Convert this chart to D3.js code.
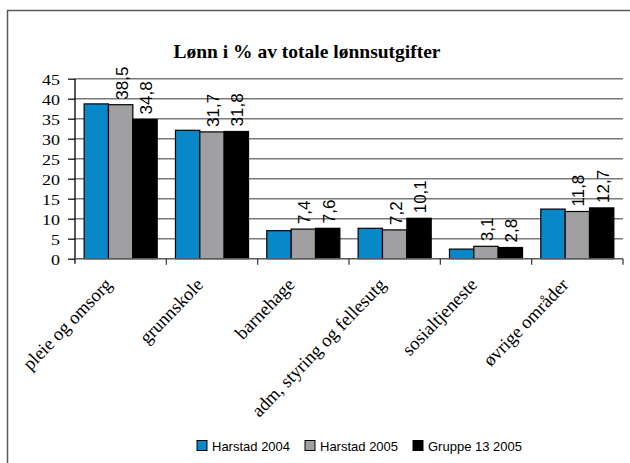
<!DOCTYPE html>
<html lang="en">
<head>
<meta charset="utf-8">
<style>
body { margin: 0; background: #fff; }
svg { display: block; }
.serif { font-family: "Liberation Serif", "Times New Roman", serif; }
.sans { font-family: "Liberation Sans", Arial, sans-serif; }
</style>
</head>
<body>
<script src="https://cdn.jsdelivr.net/npm/d3@7"></script>
<script>

var width = 630,
    height = 463;

var categories = ["pleie og omsorg", "grunnskole", "barnehage",
                  "adm, styring og fellesutg", "sosialtjeneste", "øvrige områder"];
var seriesNames = ["Harstad 2004", "Harstad 2005", "Gruppe 13 2005"];
var harstad2004 = [38.7, 32.1, 7.0, 7.6, 2.4, 12.4];
var harstad2005 = [38.5, 31.7, 7.4, 7.2, 3.1, 11.8];
var gruppe2005 = [34.8, 31.8, 7.6, 10.1, 2.8, 12.7];
var yTicks = [0, 5, 10, 15, 20, 25, 30, 35, 40, 45];
var colors = ["#0788c8", "#a0a0a2", "#000000"];

// only the two 2005 series carry value labels in the original
var labelled = [false, true, true];

var series = [harstad2004, harstad2005, gruppe2005];

var margin = {left: 75, right: 7, top: 78.7, bottom: 204.3};

var svg = d3.select("body").append("svg")
    .attr("width", width)
    .attr("height", height);

// outer frame (right and bottom edges fall outside the picture)
svg.append("path")
    .attr("d", "M7.5," + height + "V10.5H" + width)
    .attr("fill", "none")
    .attr("stroke", "#5a5a5a")
    .attr("stroke-width", 1.5);

var x0 = d3.scaleBand()
    .domain(categories)
    .range([margin.left, width - margin.right])
    .paddingInner(0.2)
    .paddingOuter(0.1);

var x1 = d3.scaleBand()
    .domain(d3.range(series.length))
    .range([0, x0.bandwidth()]);

var y = d3.scaleLinear()
    .domain([0, 45])
    .range([height - margin.bottom, margin.top]);

svg.append("text")
    .attr("class", "serif")
    .attr("x", 307)
    .attr("y", 58)
    .attr("text-anchor", "middle")
    .style("font-size", "19.5px")
    .style("font-weight", "bold")
    .text("Lønn i % av totale lønnsutgifter");

// gridlines
svg.append("g").selectAll("line")
    .data(yTicks.slice(1))
    .enter().append("line")
    .attr("x1", margin.left)
    .attr("x2", width - margin.right)
    .attr("y1", function(d) { return y(d); })
    .attr("y2", function(d) { return y(d); })
    .attr("stroke", "#7a7a7a")
    .attr("stroke-width", 1.5);

// bars
var groups = svg.append("g").selectAll("g")
    .data(categories)
    .enter().append("g")
    .attr("transform", function(d) { return "translate(" + x0(d) + ",0)"; });

groups.selectAll("rect")
    .data(function(d, i) { return series.map(function(s, j) { return {s: j, v: s[i]}; }); })
    .enter().append("rect")
    .attr("x", function(d) { return x1(d.s); })
    .attr("y", function(d) { return y(d.v); })
    .attr("width", x1.bandwidth())
    .attr("height", function(d) { return y(0) - y(d.v); })
    .attr("fill", function(d) { return colors[d.s]; })
    .attr("stroke", "#000")
    .attr("stroke-width", 1.2);

groups.selectAll("text")
    .data(function(d, i) {
        return series.map(function(s, j) { return {s: j, v: s[i]}; })
            .filter(function(d) { return labelled[d.s]; });
    })
    .enter().append("text")
    .attr("class", "sans")
    .attr("transform", function(d) {
        return "translate(" + (x1(d.s) + x1.bandwidth() / 2 + 1) + "," + (y(d.v) - 5) + ") rotate(-90)";
    })
    .attr("dy", "0.36em")
    .style("font-size", "17px")
    .text(function(d) { return String(d.v).replace(".", ","); });

// y axis
var yAxis = svg.append("g")
    .attr("transform", "translate(" + margin.left + ",0)")
    .call(d3.axisLeft(y).tickValues(yTicks).tickSize(7).tickPadding(8));
yAxis.select(".domain")
    .attr("d", "M0," + margin.top + "V" + (y(0) + 5))
    .attr("stroke", "#000")
    .attr("stroke-width", 1.3);
yAxis.selectAll(".tick line").attr("stroke", "#000").attr("stroke-width", 1.2);
yAxis.selectAll(".tick text")
    .attr("class", "serif")
    .attr("fill", "#000")
    .style("font-size", "18px")
    .attr("transform", "scale(1,0.85)")
    .attr("dy", "0.35em");

// x axis with ticks between categories
var bounds = d3.range(categories.length + 1).map(function(i) {
    return margin.left + i * x0.step();
});
svg.append("line")
    .attr("x1", margin.left)
    .attr("x2", width - margin.right)
    .attr("y1", y(0))
    .attr("y2", y(0))
    .attr("stroke", "#5a5a5a")
    .attr("stroke-width", 1.5);
svg.append("g").selectAll("line")
    .data(bounds.slice(1))
    .enter().append("line")
    .attr("x1", function(d) { return d; })
    .attr("x2", function(d) { return d; })
    .attr("y1", y(0))
    .attr("y2", y(0) + 6)
    .attr("stroke", "#333")
    .attr("stroke-width", 1.2);

svg.append("g").selectAll("text")
    .data(categories)
    .enter().append("text")
    .attr("class", "serif")
    .attr("text-anchor", "end")
    .attr("transform", function(d) {
        return "translate(" + (x0(d) + x0.bandwidth() / 2 - 17) + "," + (y(0) + 18) + ") rotate(-46)";
    })
    .attr("dy", "0.7em")
    .style("font-size", "18.5px")
    .text(function(d) { return d; });

// legend
var legend = svg.append("g").selectAll("g")
    .data(seriesNames)
    .enter().append("g")
    .attr("transform", function(d, i) { return "translate(" + [197, 305, 413][i] + ",440.5)"; });
legend.append("rect")
    .attr("width", 10)
    .attr("height", 10)
    .attr("fill", function(d, i) { return colors[i]; })
    .attr("stroke", "#000")
    .attr("stroke-width", 1);
legend.append("text")
    .attr("class", "sans")
    .attr("x", 15)
    .attr("y", 10)
    .style("font-size", "13px")
    .text(function(d) { return d; });

</script>
</body>
</html>
